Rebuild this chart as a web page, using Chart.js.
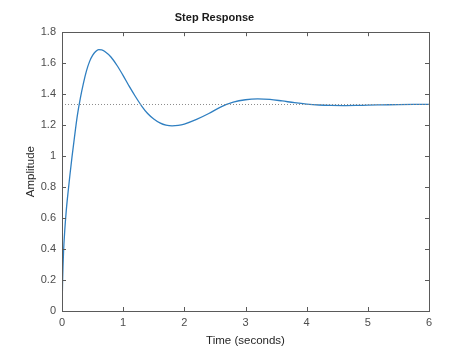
<!DOCTYPE html>
<html>
<head>
<meta charset="utf-8">
<script src="https://cdn.jsdelivr.net/npm/chart.js@4/dist/chart.umd.min.js"></script>
<style>
html,body{margin:0;padding:0;background:#fff;}
#wrap{width:474px;height:355px;}
</style>
</head>
<body>
<div id="wrap"><canvas id="c" width="474" height="355"></canvas></div>
<script>
// Data
const timeValues = [0, 0.01, 0.025, 0.045, 0.07, 0.1, 0.13, 0.165, 0.2, 0.25, 0.3, 0.35, 0.4, 0.45, 0.5, 0.55, 0.6, 0.65, 0.7, 0.8, 0.9, 1.0, 1.1, 1.2, 1.3, 1.4, 1.5, 1.6, 1.7, 1.8, 1.9, 2.0, 2.2, 2.4, 2.6, 2.8, 3.0, 3.2, 3.4, 3.6, 3.8, 4.0, 4.2, 4.4, 4.6, 4.8, 5.0, 5.25, 5.5, 5.75, 6.0];
const amplitudeValues = [0, 0.2, 0.38, 0.52, 0.65, 0.77, 0.88, 1.0, 1.11, 1.26, 1.375, 1.47, 1.55, 1.61, 1.65, 1.675, 1.687, 1.686, 1.675, 1.64, 1.585, 1.52, 1.45, 1.385, 1.325, 1.275, 1.24, 1.215, 1.2, 1.195, 1.198, 1.207, 1.237, 1.275, 1.318, 1.348, 1.364, 1.369, 1.366, 1.356, 1.345, 1.336, 1.33, 1.327, 1.326, 1.327, 1.329, 1.331, 1.333, 1.334, 1.334];
const steadyStateValue = 1.3333;
const xTickValues = [0, 1, 2, 3, 4, 5, 6];
const yTickValues = [0, 0.2, 0.4, 0.6, 0.8, 1, 1.2, 1.4, 1.6, 1.8];
const yTickLabels = ['0', '0.2', '0.4', '0.6', '0.8', '1', '1.2', '1.4', '1.6', '1.8'];
const xTickLabels = ['0', '1', '2', '3', '4', '5', '6'];

const axisColor = '#5a5a5a';
const textColor = '#4d4d4d';
const FONT = "'Liberation Sans', Arial, Helvetica, sans-serif";

const responsePoints = timeValues.map((t, i) => ({x: t, y: amplitudeValues[i]}));
const steadyPoints = [{x: xTickValues[0], y: steadyStateValue}, {x: xTickValues[xTickValues.length - 1], y: steadyStateValue}];

const inwardTicks = {
  id: 'inwardTicks',
  afterDraw(chart) {
    const {ctx, chartArea: a, scales} = chart;
    const L = 4;
    ctx.save();
    ctx.strokeStyle = axisColor;
    ctx.lineWidth = 1;
    ctx.beginPath();
    xTickValues.forEach(v => {
      const px = Math.round(scales.x.getPixelForValue(v)) + 0.5;
      ctx.moveTo(px, a.bottom); ctx.lineTo(px, a.bottom - L);
      ctx.moveTo(px, a.top); ctx.lineTo(px, a.top + L);
    });
    yTickValues.forEach(v => {
      const py = Math.round(scales.y.getPixelForValue(v)) + 0.5;
      ctx.moveTo(a.left, py); ctx.lineTo(a.left + L, py);
      ctx.moveTo(a.right, py); ctx.lineTo(a.right - L, py);
    });
    ctx.stroke();
    ctx.strokeRect(Math.round(a.left) + 0.5, Math.round(a.top) + 0.5, Math.round(a.right - a.left), Math.round(a.bottom - a.top));
    ctx.restore();
  }
};

new Chart(document.getElementById('c'), {
  type: 'scatter',
  data: {
    datasets: [
      {
        label: 'Steady state',
        data: steadyPoints,
        showLine: true,
        borderColor: '#8c8c8c',
        borderWidth: 1,
        borderDash: [1, 2],
        pointRadius: 0,
        fill: false
      },
      {
        label: 'Step response',
        data: responsePoints,
        showLine: true,
        borderColor: '#2f7fc1',
        borderWidth: 1.3,
        pointRadius: 0,
        cubicInterpolationMode: 'monotone',
        fill: false
      }
    ]
  },
  options: {
    responsive: false,
    animation: false,
    devicePixelRatio: 1,
    layout: {padding: {left: 0, right: 45, top: 0, bottom: 0}},
    plugins: {
      legend: {display: false},
      tooltip: {enabled: false},
      title: {
        display: true,
        text: 'Step Response',
        color: '#1a1a1a',
        font: {family: FONT, size: 11, weight: 'bold'},
        padding: {top: 11, bottom: 8}
      }
    },
    scales: {
      x: {
        type: 'linear',
        min: 0, max: 6,
        afterBuildTicks: s => { s.ticks = xTickValues.map(v => ({value: v})); },
        afterFit: s => { s.height = 44; },
        grid: {display: false, drawTicks: false},
        border: {display: false},
        ticks: {
          color: textColor,
          font: {family: FONT, size: 11},
          padding: 5,
          maxRotation: 0,
          callback: (v, i) => xTickLabels[i]
        },
        title: {
          display: true,
          text: 'Time (seconds)',
          color: '#262626',
          font: {family: FONT, size: 11.5},
          padding: {top: 0, bottom: 7}
        }
      },
      y: {
        type: 'linear',
        min: 0, max: 1.8,
        afterBuildTicks: s => { s.ticks = yTickValues.map(v => ({value: v})); },
        afterFit: s => { s.width = 62; },
        grid: {display: false, drawTicks: false},
        border: {display: false},
        ticks: {
          color: textColor,
          font: {family: FONT, size: 11},
          padding: 6,
          callback: (v, i) => yTickLabels[i]
        },
        title: {
          display: true,
          text: 'Amplitude',
          color: '#262626',
          font: {family: FONT, size: 11.5},
          padding: {top: 24, bottom: 0}
        }
      }
    }
  },
  plugins: [inwardTicks]
});
</script>
</body>
</html>
